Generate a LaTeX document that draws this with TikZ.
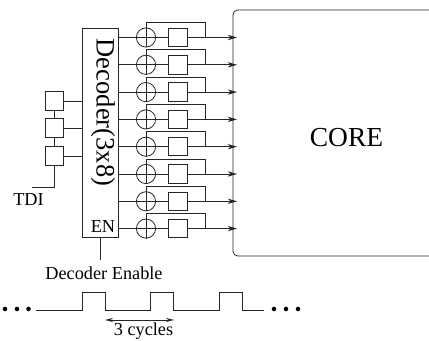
\documentclass[tikz,border=0pt]{standalone}
\usepackage{fontspec}
\setmainfont{Liberation Serif}
\usetikzlibrary{arrows.meta}
\tikzset{
  wire/.style={line width=0.6pt,black!85},
  cell/.style={draw=black!85,line width=0.6pt,minimum size=13.8pt,inner sep=0pt,fill=white},
  xorc/.style={draw=black!85,line width=0.6pt,circle,minimum size=14.4pt,inner sep=0pt},
  lbl/.style={inner sep=0pt,font=\fontsize{13.7}{16}\selectfont},
  sarrow/.style={-{Stealth[length=7pt,width=4pt]}},
  darrow/.style={{Stealth[length=6pt,width=3pt]}-{Stealth[length=6pt,width=3pt]}}
}
\begin{document}
\begin{tikzpicture}[x=0.75pt,y=-0.75pt]
\useasboundingbox (0,0) rectangle (429,341);
\node[draw=black!85,line width=0.6pt,minimum width=27pt,minimum height=156.4pt,inner sep=0pt] (dec) at (100,133) {};
\node[rotate=-90,inner sep=0pt,font=\fontsize{19.9}{22}\selectfont] (dectxt) at (103,112.5) {Decoder(3x8)};
\node[lbl] (en) at (103,227) {EN};
\draw[wire,rounded corners=3.5pt] (430,10) -- (233,10) -- (233,256) -- (430,256);
\node[inner sep=0pt,font=\fontsize{20.6}{24}\selectfont] (core) at (346.5,138) {CORE};
\foreach \i/\y in {1/37.5,2/64.8,3/92.1,4/119.4,5/146.7,6/174,7/201.3,8/228.6}{
  \node[xorc] (x\i) at (146,\y) {};
  \node[cell] (r\i) at (178,\y) {};
  \coordinate (s\i) at (118,\y);
  \coordinate (e\i) at (237,\y);
  \coordinate (t\i) at (205,\y);
  \draw[wire] (x\i.north) -- (x\i.south) (x\i.west) -- (x\i.east);
  \draw[wire] (s\i) -- (x\i.west) (x\i.east) -- (r\i.west);
  \draw[wire,sarrow] (r\i.east) -- (e\i);
  \draw[wire] (x\i.north) |- ++(59,-5) -- (t\i);
}
\node[cell] (c1) at (54.5,101) {};
\node[cell] (c2) at (54.5,128) {};
\node[cell] (c3) at (54.5,156) {};
\coordinate (c1e) at (82,101);
\coordinate (c2e) at (82,128);
\coordinate (c3e) at (82,156);
\draw[wire] (c1) -- (c2) (c2) -- (c3);
\draw[wire] (c1.east) -- (c1e) (c2.east) -- (c2e) (c3.east) -- (c3e);
\coordinate (tdi) at (32,187);
\draw[wire] (c3.south) |- (tdi);
\node[lbl] (tditxt) at (28.5,200) {TDI};
\coordinate (enb) at (100,260);
\draw[wire] (dec.south -| enb) -- (enb);
\node[lbl] (ent) at (104,273) {Decoder Enable};
\coordinate (w0) at (36,310);
\coordinate (w1) at (264,310);
\draw[wire] (w0) -- (82,310) -- (82,292) -- (105,292) -- (105,310) -- (150,310) -- (150,292) -- (173,292) -- (173,310) -- (219,310) -- (219,292) -- (242,292) -- (242,310) -- (w1);
\foreach \x in {5,17,28.5,274,286,298}{\fill (\x,309) circle (1.7pt);}
\coordinate (a0) at (105,320);
\coordinate (a1) at (174,320);
\draw[wire,darrow] (a0) -- (a1);
\node[lbl] (cyc) at (143.5,331.5) {3 cycles};
\end{tikzpicture}
\end{document}
